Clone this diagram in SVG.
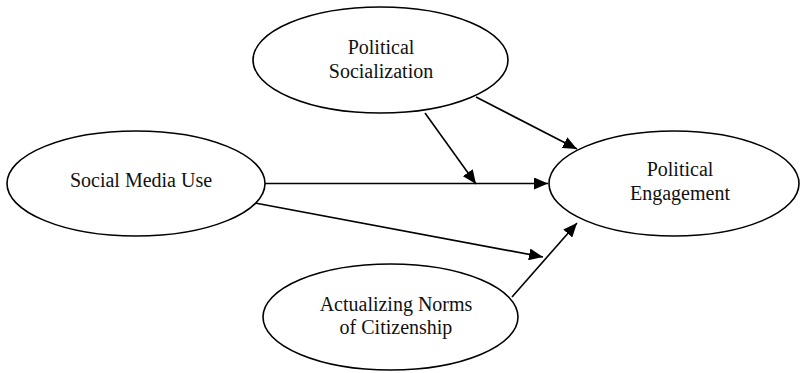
<svg xmlns="http://www.w3.org/2000/svg" width="801" height="373" viewBox="0 0 801 373">
<style>
.node ellipse{fill:#fff;stroke:#000;stroke-width:1.6}
.node text{font-family:"Liberation Serif","Times New Roman",serif;font-size:20px;fill:#111;text-anchor:middle}
.edge{stroke:#000;stroke-width:1.6;fill:none;marker-end:url(#ah)}
</style>
<defs>
<marker id="ah" markerUnits="userSpaceOnUse" markerWidth="14" markerHeight="12" viewBox="0 0 14 12" refX="14" refY="6" orient="auto">
<path d="M0,0 L14,6 L0,12 Z" fill="#000"/>
</marker>
</defs>
<rect width="801" height="373" fill="#fff"/>
<g id="connectors">
<line class="edge" x1="265" y1="183.5" x2="548" y2="183.5"/>
<line class="edge" x1="425" y1="113" x2="476" y2="184"/>
<line class="edge" x1="476" y1="97" x2="577" y2="149"/>
<line class="edge" x1="255" y1="203" x2="543" y2="257"/>
<line class="edge" x1="512" y1="297" x2="577" y2="223"/>
</g>
<g id="political-socialization" class="node">
<ellipse cx="380.5" cy="60" rx="127.5" ry="53"/>
<text x="381" y="54">Political</text>
<text x="381" y="78">Socialization</text>
</g>
<g id="social-media-use" class="node">
<ellipse cx="136" cy="183.5" rx="129" ry="52.5"/>
<text x="141" y="187">Social Media Use</text>
</g>
<g id="political-engagement" class="node">
<ellipse cx="674" cy="183.5" rx="125" ry="52.5"/>
<text x="680" y="176">Political</text>
<text x="680" y="200">Engagement</text>
</g>
<g id="actualizing-norms" class="node">
<ellipse cx="390.5" cy="317" rx="127.5" ry="53"/>
<text x="396" y="311">Actualizing Norms</text>
<text x="396" y="334">of Citizenship</text>
</g>
</svg>
